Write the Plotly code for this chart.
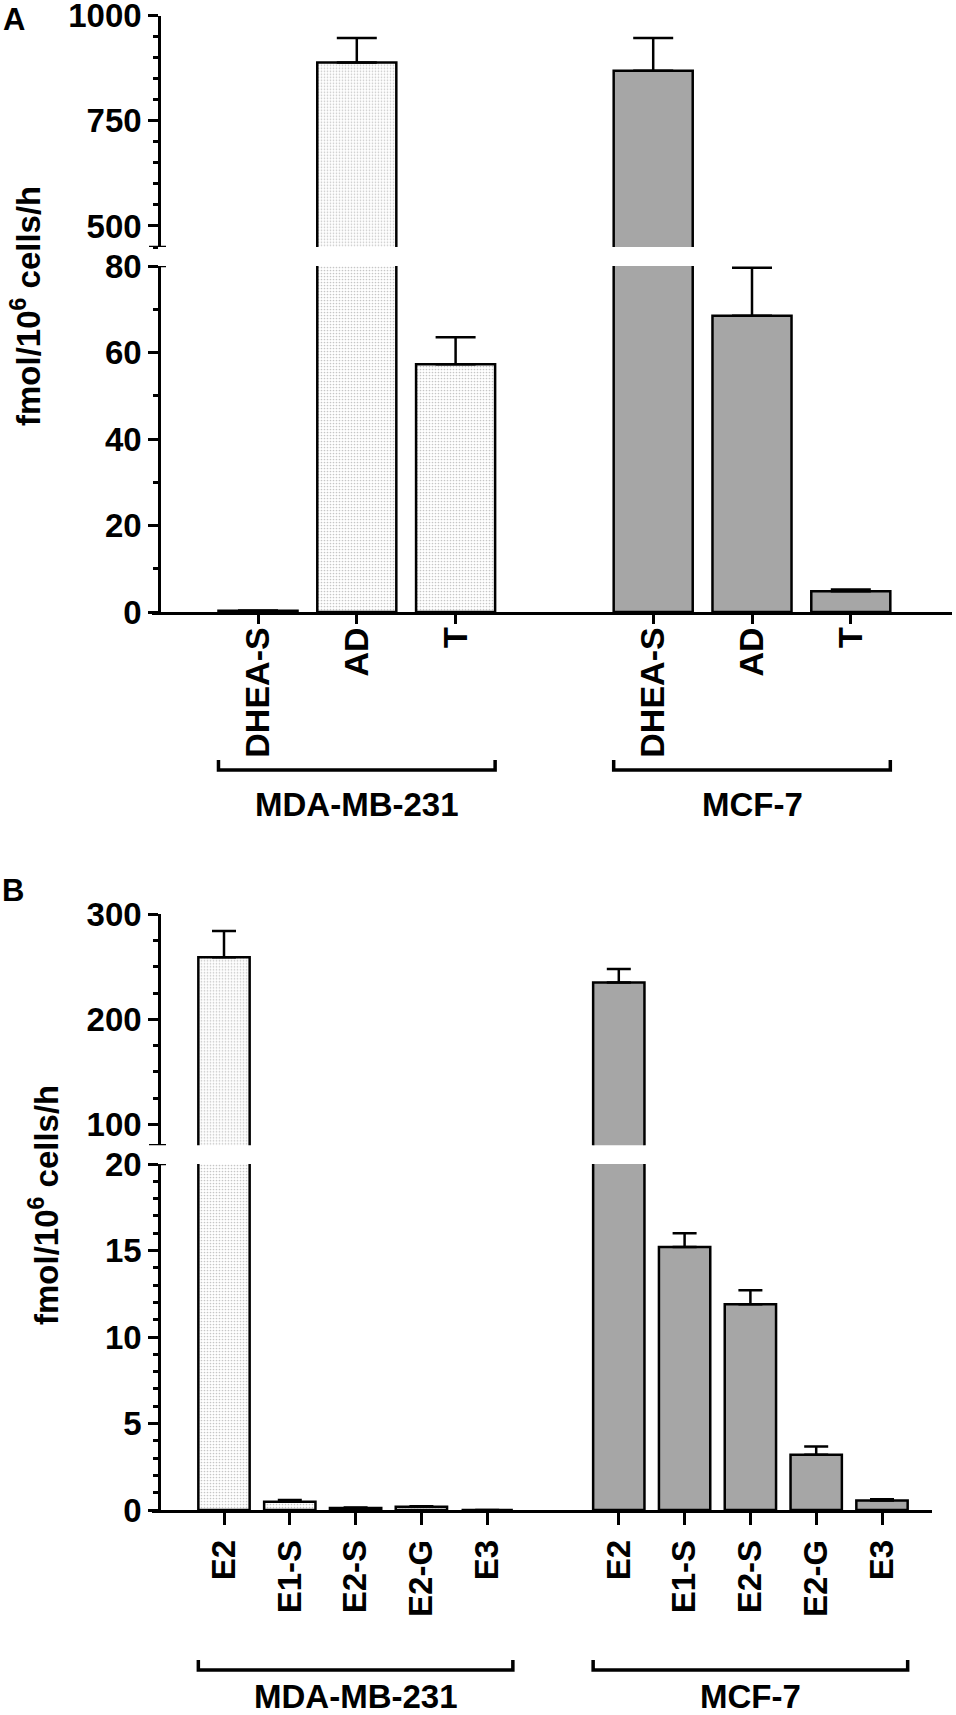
import plotly.graph_objects as go

W, H = 956, 1715

# ---- data ----------------------------------------------------------------
groups = ["MDA-MB-231", "MCF-7"]

a_labels = ["DHEA-S", "AD", "T"]
a_mda = [0.3, 889, 57.3]
a_mda_err = [0.05, 58, 6.2]
a_mcf = [869, 68.5, 4.8]
a_mcf_err = [78, 11.1, 0.4]

b_labels = ["E2", "E1-S", "E2-S", "E2-G", "E3"]
b_mda = [259, 0.48, 0.12, 0.19, 0]
b_mda_err = [25, 0.1, 0.03, 0.03, 0]
b_mcf = [235, 15.2, 11.9, 3.2, 0.55]
b_mcf_err = [13, 0.8, 0.8, 0.47, 0.07]

# ---- style ---------------------------------------------------------------
FONT = "Liberation Sans, Arial, sans-serif"
MDA_COLOR = "#e6e6e6"
MCF_COLOR = "#a6a6a6"
LW = 2.5


def px_x(p):
    return p / W


def px_y(p):
    return 1 - p / H


def positions(n, g):
    # one empty slot between the two cell lines
    return [g * (n + 1) + i for i in range(n)]


fig = go.Figure()


def add_panel(labels, mda, mda_err, mcf, mcf_err, xa_vis, xa_hid, ya_up, ya_lo,
              bar_w, cap):
    n = len(labels)
    for g, (vals, errs, color) in enumerate(
        [(mda, mda_err, MDA_COLOR), (mcf, mcf_err, MCF_COLOR)]
    ):
        for xa, ya in [(xa_hid, ya_up), (xa_vis, ya_lo)]:
            marker = dict(color=color, line=dict(color="black", width=LW))
            if g == 0:
                marker["pattern"] = dict(shape=".", fgcolor="#c6c6c6", size=3,
                                         solidity=0.25)
            fig.add_trace(go.Bar(
                x=positions(n, g), y=vals, width=bar_w,
                marker=marker,
                error_y=dict(type="data", array=errs, arrayminus=[0] * n,
                             symmetric=False, color="black", thickness=LW,
                             width=cap),
                xaxis=xa, yaxis=ya, showlegend=False,
            ))


add_panel(a_labels, a_mda, a_mda_err, a_mcf, a_mcf_err, "x", "x2", "y", "y2",
          0.8, 20)
add_panel(b_labels, b_mda, b_mda_err, b_mcf, b_mcf_err, "x3", "x4", "y3", "y4",
          0.78, 12)


def bold(size):
    return dict(family=FONT, size=size, color="black", weight="bold")


yax_common = dict(
    anchor="free", position=px_x(159), showline=True, linecolor="black",
    linewidth=LW, ticks="outside", ticklen=10, tickwidth=LW, tickcolor="black",
    showgrid=False, zeroline=False, tickfont=bold(33), automargin=False,
    ticklabeloverflow="allow",
)


def minor(d):
    return dict(dtick=d, ticks="outside", ticklen=5, tickwidth=LW,
                tickcolor="black", showgrid=False)


a_ticks = positions(3, 0) + positions(3, 1)
b_ticks = positions(5, 0) + positions(5, 1)

xa_dom = [px_x(152), px_x(952)]
xa_rng = [(152 - 258) / 98.8, (952 - 258) / 98.8]
xb_dom = [px_x(152), px_x(932)]
xb_rng = [(152 - 224) / 65.8, (932 - 224) / 65.8]

xax_common = dict(
    showline=True, linecolor="black", linewidth=LW, ticks="outside",
    tickwidth=LW, tickcolor="black", showgrid=False,
    zeroline=False, tickangle=-90, automargin=False,
    ticklabeloverflow="allow",
)

fig.update_layout(
    template="none",
    width=W, height=H, autosize=False,
    margin=dict(l=0, r=0, t=0, b=0, pad=0),
    paper_bgcolor="white", plot_bgcolor="white",
    barmode="overlay",
    font=dict(family=FONT, color="black"),
    xaxis=dict(domain=xa_dom, range=xa_rng, anchor="y2", tickvals=a_ticks,
               ticktext=a_labels * 2, tickfont=bold(34), ticklen=9,
               ticklabelstandoff=-10, **xax_common),
    xaxis2=dict(domain=xa_dom, matches="x", anchor="y", visible=False,
                automargin=False),
    xaxis3=dict(domain=xb_dom, range=xb_rng, anchor="y4", tickvals=b_ticks,
                ticktext=b_labels * 2, tickfont=bold(33), ticklen=12,
                ticklabelstandoff=2, **xax_common),
    xaxis4=dict(domain=xb_dom, matches="x3", anchor="y3", visible=False,
                automargin=False),
    yaxis=dict(domain=[px_y(247), px_y(15.7)], range=[450, 1000], dtick=250,
               minor=minor(50), **yax_common),
    yaxis2=dict(domain=[px_y(612), px_y(266)], range=[0, 80], dtick=20,
                minor=minor(10), **yax_common),
    yaxis3=dict(domain=[px_y(1145.3), px_y(914.3)], range=[80, 300], dtick=100,
                minor=minor(25), **yax_common),
    yaxis4=dict(domain=[px_y(1510), px_y(1164)], range=[0, 20], dtick=5,
                minor=minor(1), **yax_common),
)

# axis-break stubs
for ya, val, x0 in [("y", 450, 149), ("y2", 80, 159), ("y3", 80, 149), ("y4", 20, 159)]:
    fig.add_shape(type="line", xref="paper", yref=ya, x0=px_x(x0), x1=px_x(166),
                  y0=val, y1=val, line=dict(color="black", width=LW))

# group brackets and labels
for xa, n, bar_w, yb, ylab in [("x", 3, 0.8, 770, 804), ("x3", 5, 0.78, 1670, 1696)]:
    for g, name in enumerate(groups):
        pos = positions(n, g)
        x0 = pos[0] - bar_w / 2
        x1 = pos[-1] + bar_w / 2
        fig.add_shape(type="path", xref=xa, yref="paper",
                      path=f"M {x0},{px_y(yb - 10)} L {x0},{px_y(yb)} "
                           f"L {x1},{px_y(yb)} L {x1},{px_y(yb - 10)}",
                      line=dict(color="black", width=3.5))
        fig.add_annotation(x=(pos[0] + pos[-1]) / 2, xref=xa, y=px_y(ylab),
                           yref="paper", text=name, showarrow=False,
                           xanchor="center", yanchor="middle", font=bold(33))

# y-axis titles
for xc, yc in [(26, 306), (44, 1205)]:
    fig.add_annotation(x=px_x(xc), y=px_y(yc), xref="paper", yref="paper",
                       text="fmol/10<sup>6</sup> cells/h", textangle=-90,
                       showarrow=False, xanchor="center", yanchor="middle",
                       font=bold(33))

# panel letters
for letter, xc, ytop in [("A", 14, 0), ("B", 13, 871)]:
    fig.add_annotation(x=px_x(xc), y=px_y(ytop), xref="paper", yref="paper",
                       text=letter, showarrow=False, xanchor="center",
                       yanchor="top", font=bold(31))

fig.write_html("out.html", config={"displayModeBar": False},
               post_script="document.body.style.margin='0';")
